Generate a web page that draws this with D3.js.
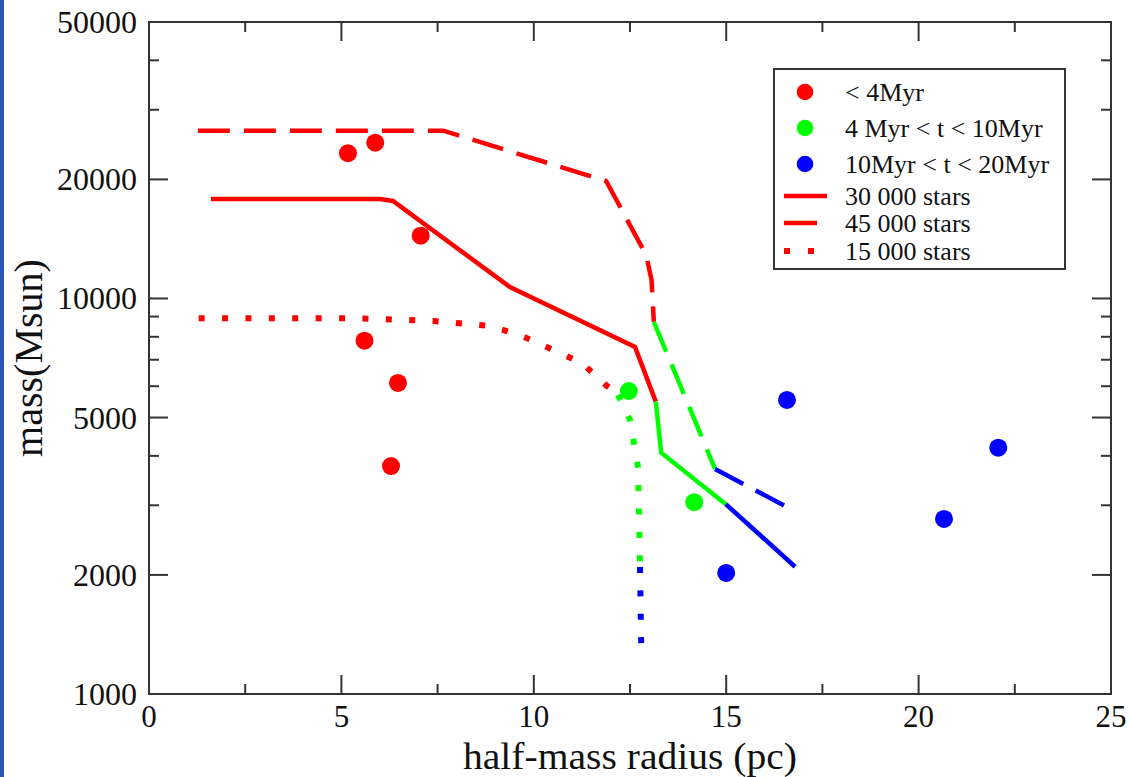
<!DOCTYPE html>
<html>
<head>
<meta charset="utf-8">
<script src="https://cdn.jsdelivr.net/npm/d3@7"></script>
<style>
  body { margin: 0; background: #fff; }
  text { font-family: "Liberation Serif", "Times New Roman", serif; fill: #111; }
</style>
</head>
<body>
<svg id="chart" width="1130" height="777"></svg>
<script>
// observed clusters [radius pc, mass Msun]
const youngPts = [[5.17, 23300], [5.88, 24770], [7.06, 14410], [5.6, 7820], [6.47, 6115], [6.29, 3770]];
const midPts = [[12.47, 5835], [14.17, 3054]];
const oldPts = [[15.0, 2024], [16.58, 5540], [20.66, 2771], [22.07, 4195]];

// model tracks, split by age colour
const solidRed = [[1.61, 17850], [6.0, 17850], [6.34, 17640], [9.38, 10690], [12.63, 7540], [13.17, 5485]];
const solidGreen = [[13.17, 5485], [13.31, 4075], [14.99, 3020]];
const solidBlue = [[14.99, 3020], [16.79, 2098]];

const dashRed = [[1.27, 26560], [7.65, 26560], [11.88, 19810], [12.92, 12880], [13.06, 11140], [13.12, 8720]];
const dashGreen = [[13.12, 8720], [14.71, 3706]];
const dashBlue = [[14.71, 3706], [16.72, 2921]];

const dotRed = [[1.29, 8910], [5.46, 8910], [7.41, 8770], [8.86, 8520], [9.64, 8085], [11.25, 6870], [11.9, 6010], [12.19, 5705]];
const dotGreen = [[12.19, 5705], [12.5, 4930], [12.71, 3730], [12.76, 2095]];
const dotBlue = [[12.76, 2095], [12.79, 1345]];

const xMajor = [0, 5, 10, 15, 20, 25];
const xMinor = [2.5, 7.5, 12.5, 17.5, 22.5];
const yMajor = [1000, 2000, 5000, 10000, 20000, 50000];
const yMinor = [3000, 4000, 6000, 7000, 8000, 9000, 30000, 40000];

const legendLabels = ["< 4Myr", "4 Myr < t < 10Myr", "10Myr < t < 20Myr", "30 000 stars", "45 000 stars", "15 000 stars"];

const RED = "#ff0000", GREEN = "#00ff00", BLUE = "#0000ff";

const svg = d3.select("#chart");
const pL = 149, pR = 1111, pT = 22, pB = 694;

svg.append("rect").attr("x", 0).attr("y", 0).attr("width", 4).attr("height", 777).attr("fill", "#2b56b6");

const x = d3.scaleLinear().domain([0, 25]).range([pL, pR]);
const y = d3.scaleLog().domain([1000, 50000]).range([pB, pT]);

const g = svg.append("g");

// ticks, all four sides pointing in
function xticks(vals, len) {
    vals.forEach(v => {
        g.append("line").attr("x1", x(v)).attr("x2", x(v)).attr("y1", pB).attr("y2", pB - len);
        g.append("line").attr("x1", x(v)).attr("x2", x(v)).attr("y1", pT).attr("y2", pT + len);
    });
}
function yticks(vals, len) {
    vals.forEach(v => {
        g.append("line").attr("x1", pL).attr("x2", pL + len).attr("y1", y(v)).attr("y2", y(v));
        g.append("line").attr("x1", pR).attr("x2", pR - len).attr("y1", y(v)).attr("y2", y(v));
    });
}
xticks(xMajor, 19);
xticks(xMinor, 10);
yticks(yMajor, 19);
yticks(yMinor, 10);
g.selectAll("line").attr("stroke", "#333").attr("stroke-width", 2);

g.append("rect").attr("x", pL).attr("y", pT).attr("width", pR - pL).attr("height", pB - pT)
    .attr("fill", "none").attr("stroke", "#333").attr("stroke-width", 2);

svg.selectAll(".xl").data(xMajor).enter().append("text")
    .attr("x", d => x(d)).attr("y", pB + 33).attr("text-anchor", "middle")
    .attr("font-size", 31).text(d => d);
svg.selectAll(".yl").data(yMajor).enter().append("text")
    .attr("x", pL - 12).attr("y", d => y(d) + 11).attr("text-anchor", "end")
    .attr("font-size", 32).text(d => d);

svg.append("text").attr("x", (pL + pR) / 2).attr("y", 769).attr("text-anchor", "middle")
    .attr("font-size", 38).attr("textLength", 334).attr("lengthAdjust", "spacingAndGlyphs")
    .text("half-mass radius (pc)");
svg.append("text").attr("transform", "translate(42," + (pT + pB) / 2 + ") rotate(-90)")
    .attr("text-anchor", "middle").attr("font-size", 40).text("mass(Msun)");

const line = d3.line().x(d => x(d[0])).y(d => y(d[1]));

function track(pts, color, style) {
    const p = svg.append("path").attr("d", line(pts)).attr("fill", "none")
        .attr("stroke", color).attr("stroke-width", style === "dot" ? 6 : 4.5);
    if (style === "dash") p.attr("stroke-dasharray", "32 14");
    if (style === "dot") p.attr("stroke-dasharray", "6 17.4");
}
track(solidRed, RED, "solid");
track(solidGreen, GREEN, "solid");
track(solidBlue, BLUE, "solid");
track(dashRed, RED, "dash");
track(dashGreen, GREEN, "dash");
track(dashBlue, BLUE, "dash");
track(dotRed, RED, "dot");
track(dotGreen, GREEN, "dot");
track(dotBlue, BLUE, "dot");

function dots(pts, color) {
    svg.selectAll(null).data(pts).enter().append("circle")
        .attr("cx", d => x(d[0])).attr("cy", d => y(d[1])).attr("r", 9).attr("fill", color);
}
dots(youngPts, RED);
dots(midPts, GREEN);
dots(oldPts, BLUE);

// legend
const lg = svg.append("g");
lg.append("rect").attr("x", 774).attr("y", 69).attr("width", 291).attr("height", 200)
    .attr("fill", "#fff").attr("stroke", "#333").attr("stroke-width", 2);
const rowY = [92, 128, 164, 196, 223, 251];
[RED, GREEN, BLUE].forEach((c, i) => {
    lg.append("circle").attr("cx", 805).attr("cy", rowY[i]).attr("r", 8.3).attr("fill", c);
});
lg.append("line").attr("x1", 784).attr("x2", 827).attr("y1", rowY[3]).attr("y2", rowY[3])
    .attr("stroke", RED).attr("stroke-width", 4.5);
lg.append("line").attr("x1", 784).attr("x2", 817).attr("y1", rowY[4]).attr("y2", rowY[4])
    .attr("stroke", RED).attr("stroke-width", 4.5);
lg.append("line").attr("x1", 784).attr("x2", 815).attr("y1", rowY[5]).attr("y2", rowY[5])
    .attr("stroke", RED).attr("stroke-width", 6).attr("stroke-dasharray", "6 18");
lg.selectAll("text").data(legendLabels).enter().append("text")
    .attr("x", 845).attr("y", (d, i) => rowY[i] + 9).attr("font-size", 26).text(d => d);
</script>
</body>
</html>
